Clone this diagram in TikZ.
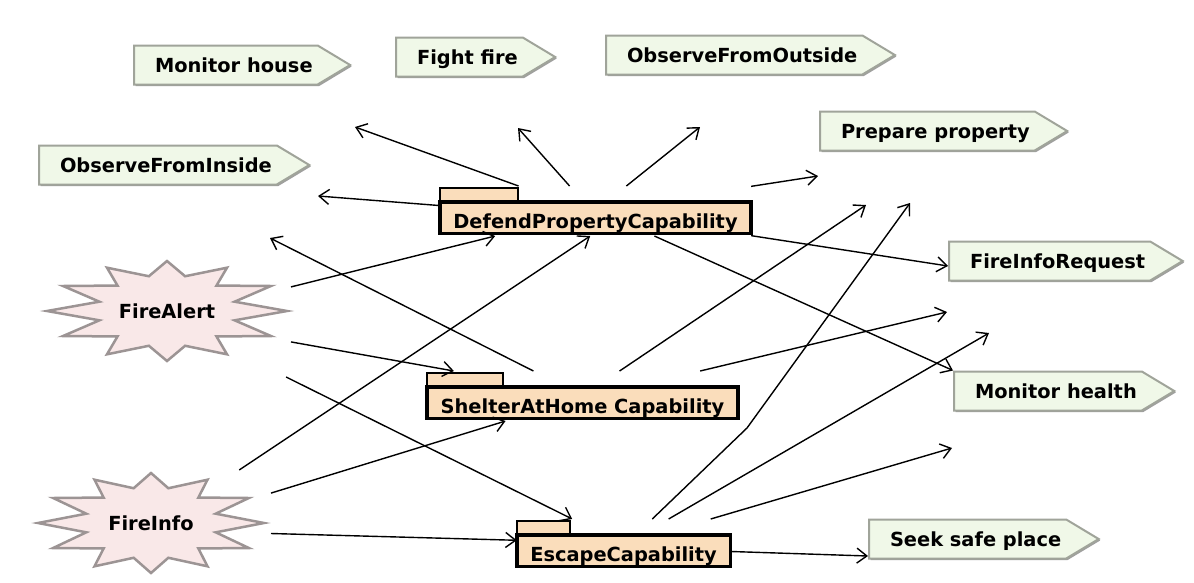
\documentclass[tikz,border=0pt]{standalone}
\usepackage{fontspec}
\setmainfont{DejaVu Sans}
\usetikzlibrary{shapes.symbols,arrows.meta,shadows,backgrounds}
\definecolor{goalfill}{RGB}{240,248,232}
\definecolor{goalline}{RGB}{160,164,154}
\definecolor{percfill}{RGB}{249,232,232}
\definecolor{percline}{RGB}{156,148,148}
\definecolor{capfill}{RGB}{250,221,187}

\begin{document}
\begin{tikzpicture}[x=1pt,y=-1pt]
  \tikzset{GoalStyle/.style = {
    shape                 = signal,
    signal to             = east,
    signal pointer angle  = 62,
    draw                  = goalline,
    fill                  = goalfill,
    line width            = 2pt,
    text                  = black,
    font                  = \bfseries\fontsize{19.4}{22}\selectfont,
    inner xsep            = 5pt,
    inner ysep            = 11.5pt,
    text height           = 15pt,
    text depth            = 1pt,
    anchor                = west,
    execute at begin node = {\hskip16pt},
    drop shadow           = {shadow xshift=1.5pt, shadow yshift=-1.5pt, fill=gray!75, opacity=1}
    }
  }
  \tikzset{CapStyle/.style = {
    shape         = rectangle,
    text          = black,
    font          = \bfseries\fontsize{19.4}{22}\selectfont,
    inner xsep    = 13.5pt,
    inner ysep    = 0pt,
    outer sep     = 0pt,
    text height   = 42pt,
    text depth    = 8pt
    }
  }
  \tikzset{CapBoxStyle/.style = {
    draw          = black,
    fill          = capfill,
    line width    = 3.5pt
    }
  }
  \tikzset{CapTabStyle/.style = {
    draw          = black,
    fill          = capfill,
    line width    = 2.5pt
    }
  }
  \tikzset{PercStyle/.style = {
    shape         = rectangle,
    text          = black,
    font          = \bfseries\fontsize{19.4}{22}\selectfont,
    inner sep     = 0pt,
    outer sep     = 0pt
    }
  }
  \tikzset{PercLineStyle/.style = {
    draw          = percline,
    fill          = percfill,
    line width    = 2.5pt,
    line join     = miter
    }
  }
  \tikzset{EdgeStyle/.style = {
    draw          = black,
    line width    = 1.4pt,
    -{Straight Barb[length=10pt,width=15pt]}
    }
  }

  \useasboundingbox (0,0) rectangle (1194,582);

  % goals
  \node[GoalStyle] (MHo) at (133,65)  {Monitor house};
  \node[GoalStyle] (FF)  at (395,57)  {Fight fire};
  \node[GoalStyle] (OO)  at (605,55)  {ObserveFromOutside};
  \node[GoalStyle] (PP)  at (819,131) {Prepare property};
  \node[GoalStyle] (OI)  at (38,165)  {ObserveFromInside};
  \node[GoalStyle] (FIR) at (948,261) {FireInfoRequest};
  \node[GoalStyle] (MHe) at (953,391) {Monitor health};
  \node[GoalStyle] (SSP) at (868,539) {Seek safe place};

  % capabilities
  \node[CapStyle] (DP) at (595.5,211) {DefendPropertyCapability};
  \node[CapStyle] (SH) at (582.5,396) {ShelterAtHome Capability};
  \node[CapStyle] (EC) at (623.5,544) {EscapeCapability};

  % percepts
  \node[PercStyle, minimum width=248pt, minimum height=132pt] (FA) at (167,311) {FireAlert};
  \node[PercStyle, minimum width=240pt, minimum height=106pt] (FI) at (151,523) {FireInfo};

  \begin{scope}[on background layer]
    \fill[white] (0,0) rectangle (1194,582);
    \draw[PercLineStyle, shift={(FA.center)}] plot[samples at={0,15,...,345}, variable=\a]
      ({cos(\a)*(120-50*mod(\a/15,2))}, {sin(\a)*(50-14*mod(\a/15,2))}) -- cycle;
    \draw[PercLineStyle, shift={(FI.center)}] plot[samples at={0,15,...,345}, variable=\a]
      ({cos(\a)*(113-46*mod(\a/15,2))}, {sin(\a)*(50-14*mod(\a/15,2))}) -- cycle;
    \draw[CapTabStyle] ([yshift=-16pt]DP.north west) rectangle ([xshift=78pt,yshift=-2pt]DP.north west);
    \draw[CapBoxStyle] ([yshift=-16pt]DP.north west) rectangle ([yshift=2.5pt]DP.south east);
    \draw[CapTabStyle] ([yshift=-16pt]SH.north west) rectangle ([xshift=76pt,yshift=-2pt]SH.north west);
    \draw[CapBoxStyle] ([yshift=-16pt]SH.north west) rectangle ([yshift=2.5pt]SH.south east);
    \draw[CapTabStyle] ([yshift=-16pt]EC.north west) rectangle ([xshift=53pt,yshift=-2pt]EC.north west);
    \draw[CapBoxStyle] ([yshift=-16pt]EC.north west) rectangle ([yshift=2.5pt]EC.south east);
  \end{scope}

  % free arrow ends
  \coordinate (MHoEnd)  at (355,127);
  \coordinate (FFEnd)   at (518,128);
  \coordinate (OOEnd)   at (700,127);
  \coordinate (PPEnd)   at (818,176);
  \coordinate (OIEnd)   at (318,196);
  \coordinate (OIEnd2)  at (270,238);
  \coordinate (PPEnd2)  at (866,205);
  \coordinate (FIREnd)  at (947,312);
  \coordinate (EscBend) at (747,428);
  \coordinate (PPEnd3)  at (910,203);
  \coordinate (MHeEnd)  at (989,333);
  \coordinate (SSPEnd)  at (952,448);

  \draw[EdgeStyle] (DP.162) to (MHoEnd);
  \draw[EdgeStyle] (DP.136) to (FFEnd);
  \draw[EdgeStyle] (DP.39)  to (OOEnd);
  \draw[EdgeStyle] (DP.9)   to (PPEnd);
  \draw[EdgeStyle] (DP.178) to (OIEnd);
  \draw[EdgeStyle] (DP.-9)  to ([yshift=-5pt]FIR.west);
  \draw[EdgeStyle] (DP.-23) to (MHe.north west);
  \draw[EdgeStyle] (FA.11)  to (DP.194);
  \draw[EdgeStyle] (FA.-14) to (SH.169);
  \draw[EdgeStyle] (FA.-29) to (EC.154);
  \draw[EdgeStyle] (FI.31)  to (DP.258);
  \draw[EdgeStyle] (FI.14)  to (SH.198);
  \draw[EdgeStyle] (FI.-5)  to (EC.178);
  \draw[EdgeStyle] (SH.153) to (OIEnd2);
  \draw[EdgeStyle] (SH.34)  to (PPEnd2);
  \draw[EdgeStyle] (SH.12)  to (FIREnd);
  \draw[EdgeStyle] (EC.41) -- (EscBend) -- (PPEnd3);
  \draw[EdgeStyle] (EC.29)  to (MHeEnd);
  \draw[EdgeStyle] (EC.16)  to (SSPEnd);
  \draw[EdgeStyle] (EC.-4)  to ([yshift=-17pt]SSP.west);

\end{tikzpicture}
\end{document}
